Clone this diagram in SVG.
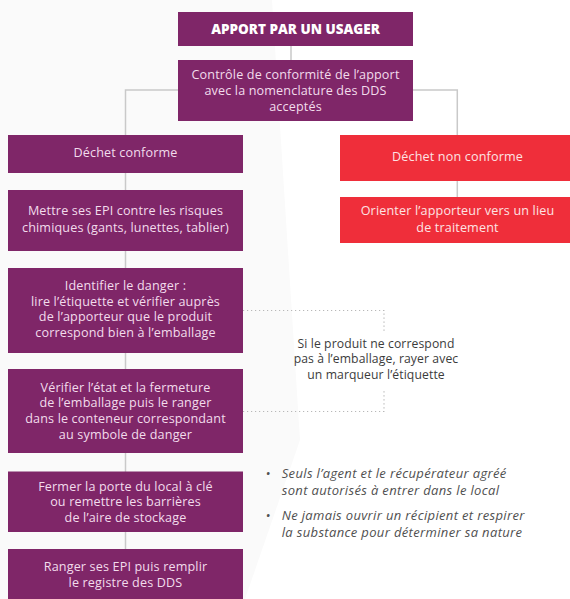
<svg xmlns="http://www.w3.org/2000/svg" width="570" height="599" viewBox="0 0 570 599">
<style>
.pb{fill:#7f2668}
.rb{fill:#ef2e3a}
.t{font-family:"Open Sans","DejaVu Sans",sans-serif;font-size:12.6px;fill:#f2dcec;text-anchor:middle;letter-spacing:0.15px}
.tr{fill:#fde3e4}
.ttl{font-family:"Open Sans","DejaVu Sans",sans-serif;font-size:13.5px;font-weight:800;fill:#ffffff;text-anchor:middle}
.n{font-family:"Open Sans","DejaVu Sans",sans-serif;font-size:12.2px;fill:#3c3c3c;text-anchor:middle;letter-spacing:0.1px}
.b{font-family:"Open Sans","DejaVu Sans",sans-serif;font-size:13px;font-style:italic;fill:#505050;letter-spacing:0.35px}
.ln{stroke:#c9c9c9;stroke-width:1.5;fill:none}
.dt{stroke:#b8b8b8;stroke-width:1.2;stroke-dasharray:1.2 2.8;fill:none}
</style>
<rect width="570" height="599" fill="#ffffff"/>
<polygon points="0,0 272,0 300,440 245,599 0,599" fill="#fafafa"/>
<g id="connectors">
<path class="ln" d="M291,45V60"/>
<path class="ln" d="M125.5,135V90H457.3V197"/>
<path class="ln" d="M125.5,135V549"/>
<path class="dt" d="M243,310.5H384V333"/>
<path class="dt" d="M243,411.5H384V390"/>
</g>
<g id="n-apport"><rect class="pb" x="178" y="12" width="235" height="34"/><text class="ttl" x="295.5" y="33.5">APPORT PAR UN USAGER</text></g>
<g id="n-controle"><rect class="pb" x="178" y="60" width="235" height="61"/><text class="t" x="295.5" y="79">Contrôle de conformité de l’apport</text><text class="t" x="295.5" y="95">avec la nomenclature des DDS</text><text class="t" x="295.5" y="111">acceptés</text></g>
<g id="n-conforme"><rect class="pb" x="8" y="135" width="235" height="38"/><text class="t" x="125.5" y="156.5">Déchet conforme</text></g>
<g id="n-epi"><rect class="pb" x="8" y="190" width="235" height="61"/><text class="t" x="125.5" y="215">Mettre ses EPI contre les risques</text><text class="t" x="125.5" y="232">chimiques (gants, lunettes, tablier)</text></g>
<g id="n-identifier"><rect class="pb" x="8" y="268" width="235" height="85"/><text class="t" x="125.5" y="290">Identifier le danger :</text><text class="t" x="125.5" y="305.7">lire l’étiquette et vérifier auprès</text><text class="t" x="125.5" y="321.4">de l’apporteur que le produit</text><text class="t" x="125.5" y="337">correspond bien à l’emballage</text></g>
<g id="n-verifier"><rect class="pb" x="8" y="369" width="235" height="84"/><text class="t" x="125.5" y="391.7">Vérifier l’état et la fermeture</text><text class="t" x="125.5" y="407.3">de l’emballage puis le ranger</text><text class="t" x="125.5" y="422.9">dans le conteneur correspondant</text><text class="t" x="125.5" y="438.5">au symbole de danger</text></g>
<g id="n-fermer"><rect class="pb" x="8" y="471.5" width="235" height="60.5"/><text class="t" x="125.5" y="490.7">Fermer la porte du local à clé</text><text class="t" x="125.5" y="506.2">ou remettre les barrières</text><text class="t" x="125.5" y="521.7">de l’aire de stockage</text></g>
<g id="n-ranger"><rect class="pb" x="8" y="549" width="235" height="50"/><text class="t" x="125.5" y="571">Ranger ses EPI puis remplir</text><text class="t" x="125.5" y="586.7">le registre des DDS</text></g>
<g id="n-nonconforme"><rect class="rb" x="340" y="135" width="235" height="46"/><text class="t tr" x="457.5" y="161">Déchet non conforme</text></g>
<g id="n-orienter"><rect class="rb" x="340" y="197" width="235" height="46"/><text class="t tr" x="457.5" y="215">Orienter l’apporteur vers un lieu</text><text class="t tr" x="457.5" y="231.7">de traitement</text></g>
<g id="n-note"><text class="n" x="376" y="347.5">Si le produit ne correspond</text><text class="n" x="376" y="363.2">pas à l’emballage, rayer avec</text><text class="n" x="376" y="378.9">un marqueur l’étiquette</text></g>
<g id="n-bullets"><text class="b" x="265.5" y="478.3">•</text><text class="b" x="281.7" y="478.3">Seuls l’agent et le récupérateur agréé</text><text class="b" x="281.7" y="495">sont autorisés à entrer dans le local</text><text class="b" x="265.5" y="520">•</text><text class="b" x="281.7" y="520">Ne jamais ouvrir un récipient et respirer</text><text class="b" x="281.7" y="536.7">la substance pour déterminer sa nature</text></g>
</svg>
